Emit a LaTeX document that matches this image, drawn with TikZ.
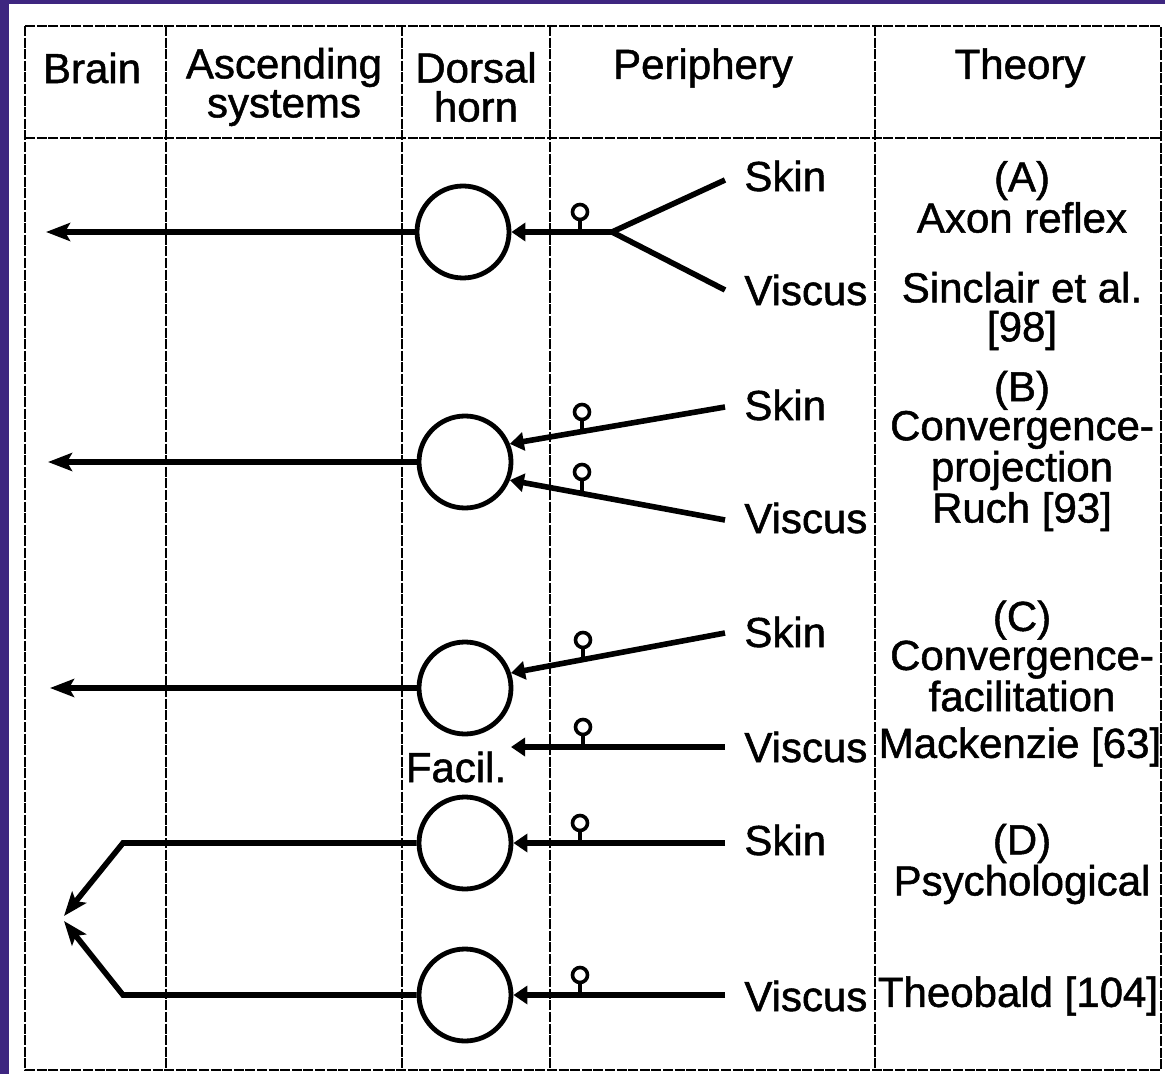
\documentclass[tikz,border=0pt]{standalone}
\usepackage{fontspec}
\setmainfont{Liberation Sans}[FakeBold=1.2]
\usetikzlibrary{arrows.meta}
\definecolor{bgpurple}{RGB}{62,38,128}
\begin{document}
\begin{tikzpicture}[x=0.5pt,y=-0.5pt,
  tbl/.style={line width=1.2pt, dash pattern=on 5pt off 0.8pt},
  neuron/.style={circle, draw, line width=2.4pt, minimum size=46pt, inner sep=0pt},
  fibre/.style={line width=2.8pt},
  lbl/.style={font=\fontsize{21}{19.5}\selectfont, inner sep=0pt, align=center},
  knob/.style={circle, draw, line width=1.8pt, minimum size=7.5pt, inner sep=0pt},
  stem/.style={line width=1.8pt},
  syn/.style={-{Triangle[width=9pt,length=7pt]}},
  tipa/.style={-{Stealth[width=9pt,length=12pt,inset=2.5pt]}}]
\fill[bgpurple] (0,0) rectangle (1165,1074);
\fill[white] (9,4) rectangle (1165,1074);
\useasboundingbox (0,0) rectangle (1165,1074);
% table
\draw[tbl] (25,26) rectangle (1161,1070);
\draw[tbl] (25,138) -- (1161,138);
\foreach \xx in {166,402,550,875} \draw[tbl] (\xx,26) -- (\xx,1070);
% headers
\node[lbl] (hBrain) at (92,68) {Brain};
\node[lbl] (hAsc) at (284,87) {Ascending\\systems};
\node[lbl] (hDor) at (476,87) {Dorsal\\horn};
\node[lbl] (hPer) at (703,68) {Periphery};
\node[lbl] (hThe) at (1020,68) {Theory};
% theory texts
\node[lbl] (tA) at (1022,197) {(A)\\Axon reflex};
\node[lbl] (tA2) at (1022,311) {Sinclair et al.\\{[98]}};
\node[lbl] (tB) at (1022,451) {(B)\\Convergence-\\projection\\Ruch [93]};
\node[lbl] (tC) at (1022,656) {(C)\\Convergence-\\facilitation};
\node[lbl] (tC2) at (1020,747) {Mackenzie [63]};
\node[lbl] (tD) at (1022,864) {(D)\\Psychological};
\node[lbl] (tD2) at (1018,996) {Theobald [104]};
% periphery labels
\node[lbl, anchor=west] (lsA) at (744,176) {Skin};
\node[lbl, anchor=west] (lvA) at (744,290) {Viscus};
\node[lbl, anchor=west] (lsB) at (744,405) {Skin};
\node[lbl, anchor=west] (lvB) at (744,518) {Viscus};
\node[lbl, anchor=west] (lsC) at (744,632) {Skin};
\node[lbl, anchor=west] (lvC) at (744,747) {Viscus};
\node[lbl, anchor=west] (lsD) at (744,840) {Skin};
\node[lbl, anchor=west] (lvD) at (744,996) {Viscus};
\node[lbl] (facil) at (456,767) {Facil.};
% neurons
\node[neuron] (nA) at (463,232) {};
\node[neuron] (nB) at (465,462) {};
\node[neuron] (nC) at (465,688) {};
\node[neuron] (nD1) at (465,843) {};
\node[neuron] (nD2) at (465,995) {};
% ---- A
\coordinate (bA) at (46,232);
\coordinate (jA) at (612,232);
\coordinate (sA) at (725,180);
\coordinate (vA) at (725,290);
\draw[fibre, tipa] (nA.west) -- (bA);
\draw[fibre] (sA) -- (jA) -- (vA);
\draw[fibre, syn] (jA) -- (nA.east);
\node[knob] (kA) at (580,212) {};
\coordinate (kAb) at (580,232);
\draw[stem] (kA.south) -- (kAb);
% ---- B
\coordinate (bB) at (48,462);
\coordinate (sB) at (725,407);
\coordinate (vB) at (725,520);
\draw[fibre, tipa] (nB.west) -- (bB);
\draw[fibre, syn] (sB) -- (nB.22);
\draw[fibre, syn] (vB) -- (nB.-22);
\node[knob] (kB1) at (582,412) {};
\coordinate (kB1b) at (582,432);
\draw[stem] (kB1.south) -- (kB1b);
\node[knob] (kB2) at (582,472) {};
\coordinate (kB2b) at (582,493);
\draw[stem] (kB2.south) -- (kB2b);
% ---- C
\coordinate (bC) at (50,688);
\coordinate (sC) at (725,633);
\coordinate (vC) at (725,747);
\coordinate (fC) at (511,747);
\draw[fibre, tipa] (nC.west) -- (bC);
\draw[fibre, syn] (sC) -- (nC.18);
\draw[fibre, syn] (vC) -- (fC);
\node[knob] (kC1) at (583,640) {};
\coordinate (kC1b) at (583,660);
\draw[stem] (kC1.south) -- (kC1b);
\node[knob] (kC2) at (583,727) {};
\coordinate (kC2b) at (583,747);
\draw[stem] (kC2.south) -- (kC2b);
% ---- D
\coordinate (cD1) at (123,843);
\coordinate (cD2) at (123,995);
\coordinate (tD1) at (64,916);
\coordinate (tD2) at (64,921);
\coordinate (sD) at (725,843);
\coordinate (vD) at (725,995);
\draw[fibre, tipa] (nD1.west) -- (cD1) -- (tD1);
\draw[fibre, tipa] (nD2.west) -- (cD2) -- (tD2);
\draw[fibre, syn] (sD) -- (nD1.east);
\draw[fibre, syn] (vD) -- (nD2.east);
\node[knob] (kD1) at (580,823) {};
\coordinate (kD1b) at (580,843);
\draw[stem] (kD1.south) -- (kD1b);
\node[knob] (kD2) at (580,975) {};
\coordinate (kD2b) at (580,995);
\draw[stem] (kD2.south) -- (kD2b);
\end{tikzpicture}
\end{document}
